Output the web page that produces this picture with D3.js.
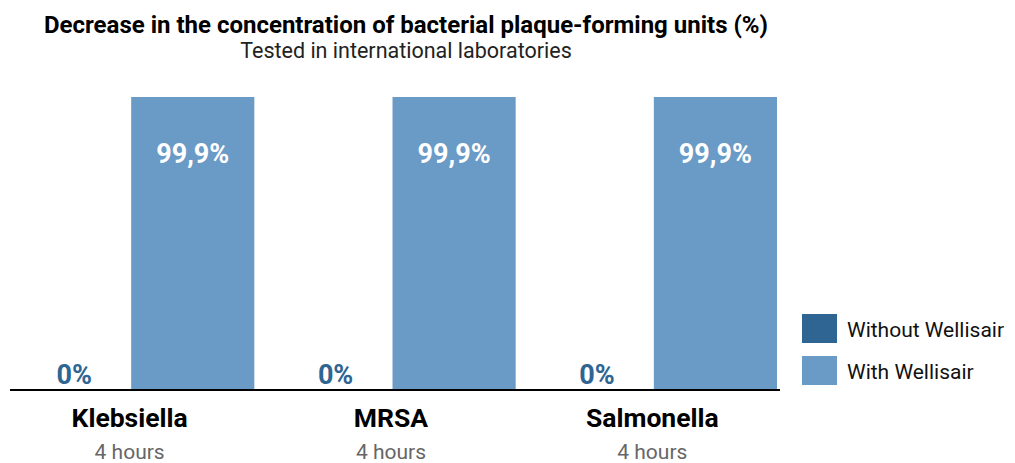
<!DOCTYPE html>
<html lang="en">
<head>
  <meta charset="UTF-8">
  <title>Plaque-forming units</title>
  <style>
    body { margin: 0; background: #fff; }
    text { font-family: Roboto, "Noto Sans", sans-serif; }
  </style>
</head>
<body>
<script src="https://cdn.jsdelivr.net/npm/d3@7"></script>
<script>
  // data
  var categories = ["Klebsiella", "MRSA", "Salmonella"];
  var durations = ["4 hours", "4 hours", "4 hours"];
  var series = ["Without Wellisair", "With Wellisair"];
  var withoutValues = [0, 0, 0];
  var withValues = [99.9, 99.9, 99.9];
  var valueLabels = [["0%", "99,9%"], ["0%", "99,9%"], ["0%", "99,9%"]];

  var w = 1015, h = 463;
  var colors = ["#2e6592", "#6a9ac6"];

  var svg = d3.select("body").append("svg")
      .attr("width", w)
      .attr("height", h);

  svg.append("text")
      .attr("x", 406).attr("y", 33)
      .attr("text-anchor", "middle")
      .attr("font-size", 24)
      .attr("font-weight", 700)
      .attr("fill", "#000")
      .text("Decrease in the concentration of bacterial plaque-forming units (%)");

  svg.append("text")
      .attr("x", 406).attr("y", 58)
      .attr("text-anchor", "middle")
      .attr("font-size", 21.5)
      .attr("fill", "#222")
      .text("Tested in international laboratories");

  var x0 = d3.scaleBand()
      .domain(categories)
      .range([-7, 777]);

  var x1 = d3.scaleBand()
      .domain(series)
      .range([0, x0.bandwidth()])
      .paddingInner(0.1087);

  var y = d3.scaleLinear()
      .domain([0, 100])
      .range([390, 96.7]);

  var rows = categories.map(function(c, i) {
    return {
      cat: c,
      dur: durations[i],
      vals: [
        {s: series[0], v: withoutValues[i], label: valueLabels[i][0], k: 0},
        {s: series[1], v: withValues[i], label: valueLabels[i][1], k: 1}
      ]
    };
  });

  var groups = svg.append("g").selectAll("g")
      .data(rows)
      .join("g")
      .attr("transform", function(d) { return "translate(" + x0(d.cat) + ",0)"; });

  groups.selectAll("rect")
      .data(function(d) { return d.vals; })
      .join("rect")
      .attr("x", function(d) { return x1(d.s); })
      .attr("y", function(d) { return y(d.v); })
      .attr("width", x1.bandwidth())
      .attr("height", function(d) { return y(0) - y(d.v); })
      .attr("fill", function(d) { return colors[d.k]; });

  groups.selectAll("text.val")
      .data(function(d) { return d.vals; })
      .join("text")
      .attr("class", "val")
      .attr("x", function(d) {
        return d.k == 0 ? x1(d.s) + x1.bandwidth() * 0.66 : x1(d.s) + x1.bandwidth() / 2;
      })
      .attr("y", function(d) { return d.k == 0 ? y(0) - 6 : y(d.v) + 66; })
      .attr("text-anchor", "middle")
      .attr("font-size", 27)
      .attr("font-weight", 700)
      .attr("fill", function(d) { return d.k == 0 ? colors[0] : "#fff"; })
      .text(function(d) { return d.label; });

  groups.append("text")
      .attr("x", x0.bandwidth() / 2 + 6)
      .attr("y", 427)
      .attr("text-anchor", "middle")
      .attr("font-size", 26.5)
      .attr("font-weight", 700)
      .attr("fill", "#000")
      .text(function(d) { return d.cat; });

  groups.append("text")
      .attr("x", x0.bandwidth() / 2 + 6)
      .attr("y", 459)
      .attr("text-anchor", "middle")
      .attr("font-size", 21)
      .attr("fill", "#666")
      .text(function(d) { return d.dur; });

  // baseline
  svg.append("line")
      .attr("x1", 10).attr("x2", 780)
      .attr("y1", y(0)).attr("y2", y(0))
      .attr("stroke", "#000")
      .attr("stroke-width", 2);

  // legend
  var legend = svg.append("g").attr("transform", "translate(802,314)");
  var li = legend.selectAll("g")
      .data(series)
      .join("g")
      .attr("transform", function(d, i) { return "translate(0," + i * 42 + ")"; });
  li.append("rect")
      .attr("width", 35).attr("height", 29)
      .attr("fill", function(d, i) { return colors[i]; });
  li.append("text")
      .attr("x", 45).attr("y", 23)
      .attr("font-size", 21)
      .attr("fill", "#111")
      .text(function(d) { return d; });
</script>
</body>
</html>
